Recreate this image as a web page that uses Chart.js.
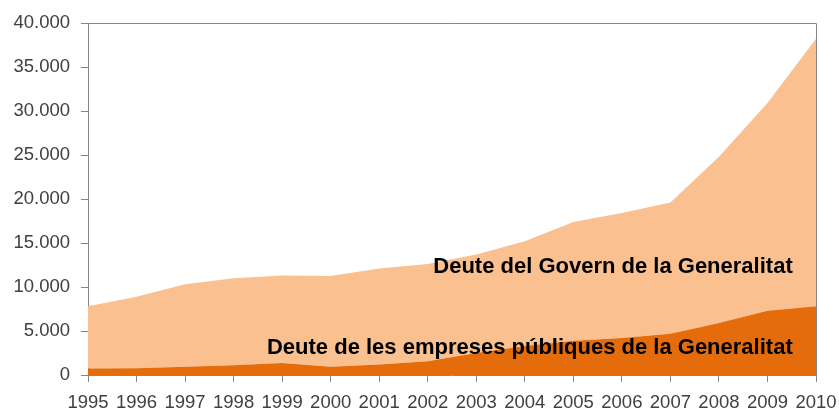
<!DOCTYPE html>
<html>
<head>
<meta charset="utf-8">
<script src="https://cdn.jsdelivr.net/npm/chart.js@4.4.1/dist/chart.umd.min.js"></script>
<style>
  body { margin: 0; background: #fff; }
  #wrap { width: 839px; height: 414px; }
</style>
</head>
<body>
<div id="wrap"><canvas id="chart" width="839" height="414"></canvas></div>
<script>
/* DATA (milions d'euros) */
const years = ["1995", "1996", "1997", "1998", "1999", "2000", "2001", "2002",
               "2003", "2004", "2005", "2006", "2007", "2008", "2009", "2010"];
const empreses = [750, 780, 950, 1100, 1350, 950, 1200, 1550,
                  2500, 3300, 3900, 4200, 4700, 5900, 7300, 7800];
const govern = [7050, 8120, 9350, 9900, 9950, 10300, 10900, 11050,
                11200, 11900, 13500, 14200, 14900, 18900, 23600, 30400];
const yTicks = [0, 5000, 10000, 15000, 20000, 25000, 30000, 35000, 40000];

const seriesNames = ["Deute de les empreses públiques de la Generalitat",
                     "Deute del Govern de la Generalitat"];

/* STYLE */
const DARK = "#E46C0A";
const LIGHT = "#FAC090";
const AXIS = "#868686";
const TEXT = "#404040";
const FONT = '"Liberation Sans", Arial, sans-serif';

/* label anchors: x as category index, y as value */
const labelSpots = [
    { text: seriesNames[1], x: 14.52, y: 12300 },
    { text: seriesNames[0], x: 14.52, y: 3100 }
];

/* PLUGINS */
const frame = {
    id: "frame",
    afterDatasetsDraw(chart) {
        const { ctx, chartArea: a } = chart;
        ctx.save();
        ctx.strokeStyle = AXIS;
        ctx.lineWidth = 1;
        ctx.beginPath();
        ctx.moveTo(a.left, a.top + 0.5);
        ctx.lineTo(a.right + 0.5, a.top + 0.5);
        ctx.lineTo(a.right + 0.5, a.bottom);
        ctx.stroke();
        ctx.restore();
    }
};

const areaLabels = {
    id: "areaLabels",
    afterDatasetsDraw(chart) {
        const { ctx, scales } = chart;
        ctx.save();
        ctx.font = "bold 22px " + FONT;
        ctx.fillStyle = "#000";
        ctx.textAlign = "right";
        ctx.textBaseline = "middle";
        labelSpots.forEach(l => {
            ctx.fillText(l.text, scales.x.getPixelForValue(l.x), scales.y.getPixelForValue(l.y));
        });
        ctx.restore();
    }
};

/* CHART */
let ctx = document.getElementById("chart").getContext("2d");

let chart = new Chart(ctx, {
    type: "line",
    data: {
        labels: years,
        datasets: [
            {
                label: seriesNames[0],
                data: empreses,
                fill: "origin",
                backgroundColor: DARK,
                borderWidth: 0,
                pointRadius: 0,
                tension: 0
            },
            {
                label: seriesNames[1],
                data: govern,
                fill: "-1",
                backgroundColor: LIGHT,
                borderWidth: 0,
                pointRadius: 0,
                tension: 0
            }
        ]
    },
    options: {
        responsive: false,
        animation: false,
        layout: { padding: { top: 23, right: 23, left: 0, bottom: 0 } },
        plugins: {
            legend: { display: false },
            tooltip: { enabled: false }
        },
        scales: {
            x: {
                type: "category",
                offset: false,
                grid: {
                    drawOnChartArea: false,
                    offset: false,
                    tickLength: 7,
                    color: AXIS
                },
                border: { color: AXIS },
                ticks: {
                    color: TEXT,
                    font: { family: FONT, size: 18.5 },
                    padding: 10,
                    maxRotation: 0,
                    autoSkip: false
                },
                afterFit(scale) {
                    scale.height = 39;
                    scale.paddingLeft = 0;
                    scale.paddingRight = 0;
                }
            },
            y: {
                stacked: true,
                min: 0,
                max: 40000,
                afterBuildTicks(scale) {
                    scale.ticks = yTicks.map(v => ({ value: v }));
                },
                grid: {
                    drawOnChartArea: false,
                    tickLength: 7,
                    color: AXIS
                },
                border: { color: AXIS },
                ticks: {
                    color: TEXT,
                    font: { family: FONT, size: 18.5 },
                    padding: 11,
                    callback: v => String(v).replace(/\B(?=(\d{3})+(?!\d))/g, ".")
                },
                afterFit(scale) { scale.width = 88; }
            }
        }
    },
    plugins: [frame, areaLabels]
});
</script>
</body>
</html>
